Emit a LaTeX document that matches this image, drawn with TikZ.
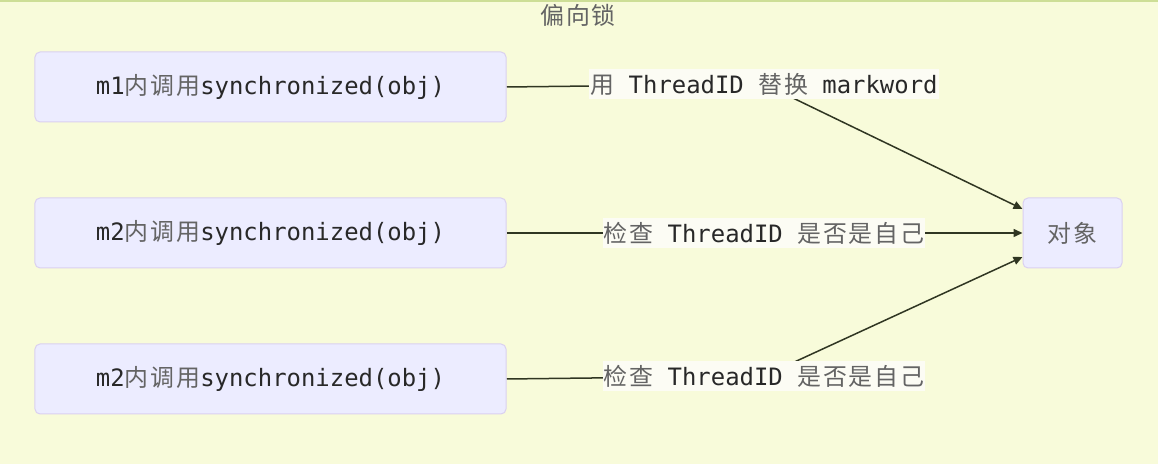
\documentclass[tikz,border=0pt]{standalone}
\usepackage{fontspec}
\setmainfont{DejaVu Sans Mono}
\newfontfamily\cjk{Noto Sans CJK SC}[LetterSpace=8]
\usetikzlibrary{arrows.meta,backgrounds}
\definecolor{clusterbg}{RGB}{248,251,218}
\definecolor{clusterline}{RGB}{205,222,150}
\definecolor{nodefill}{RGB}{236,236,255}
\definecolor{nodeline}{RGB}{218,208,240}
\definecolor{edgecol}{RGB}{48,54,34}
\definecolor{labelbg}{RGB}{252,252,244}
\definecolor{textcol}{RGB}{40,40,40}
\definecolor{zhcol}{RGB}{100,100,100}
\newcommand{\zh}[1]{{\cjk\color{zhcol}#1}}
\pgfdeclarelayer{edges}
\pgfsetlayers{background,edges,main}

\begin{document}
\begin{tikzpicture}[
  x=1bp, y=1bp,
  box/.style={draw=nodeline, line width=1bp, fill=nodefill, rounded corners=5bp, minimum width=#1, minimum height=70bp, inner sep=0pt, text=textcol, font=\fontsize{24}{28}\selectfont},
  box/.default=471bp,
  lbl/.style={fill=labelbg, inner xsep=1bp, inner ysep=4bp, text=textcol, font=\fontsize{24}{28}\selectfont},
  arr/.style={-{Triangle[length=9bp,width=8bp]}, line width=1.5bp, color=edgecol},
]
  \useasboundingbox (0,0) rectangle (1158,464);
  \begin{scope}[on background layer]
    \fill[clusterbg] (0,0) rectangle (1158,464);
    \draw[clusterline, line width=2bp] (0,463) -- (1158,463);
  \end{scope}

  \node[text=zhcol, font=\cjk\fontsize{24}{28}\selectfont] (title) at (578,449) {偏向锁};

  \node[box] (m1) at (270.5,377) {m1\zh{内调用}synchronized(obj)};
  \node[box] (m2a) at (270.5,231) {m2\zh{内调用}synchronized(obj)};
  \node[box] (m2b) at (270.5,85) {m2\zh{内调用}synchronized(obj)};
  \node[box=99bp] (obj) at (1072.5,231) {\zh{对象}};

  \node[lbl] (l1) at (764,380) {\zh{用} ThreadID \zh{替换} markword};
  \node[lbl] (l2) at (764,231) {\zh{检查} ThreadID \zh{是否是自己}};
  \node[lbl] (l3) at (764,88) {\zh{检查} ThreadID \zh{是否是自己}};

  \begin{pgfonlayer}{edges}
    \draw[arr] (m1.east) -- (l1.center) -- ([yshift=24bp]obj.west);
    \draw[arr] (m2a.east) -- (l2.center) -- (obj.west);
    \draw[arr] (m2b.east) -- (l3.center) -- ([yshift=-24bp]obj.west);
  \end{pgfonlayer}
\end{tikzpicture}
\end{document}
